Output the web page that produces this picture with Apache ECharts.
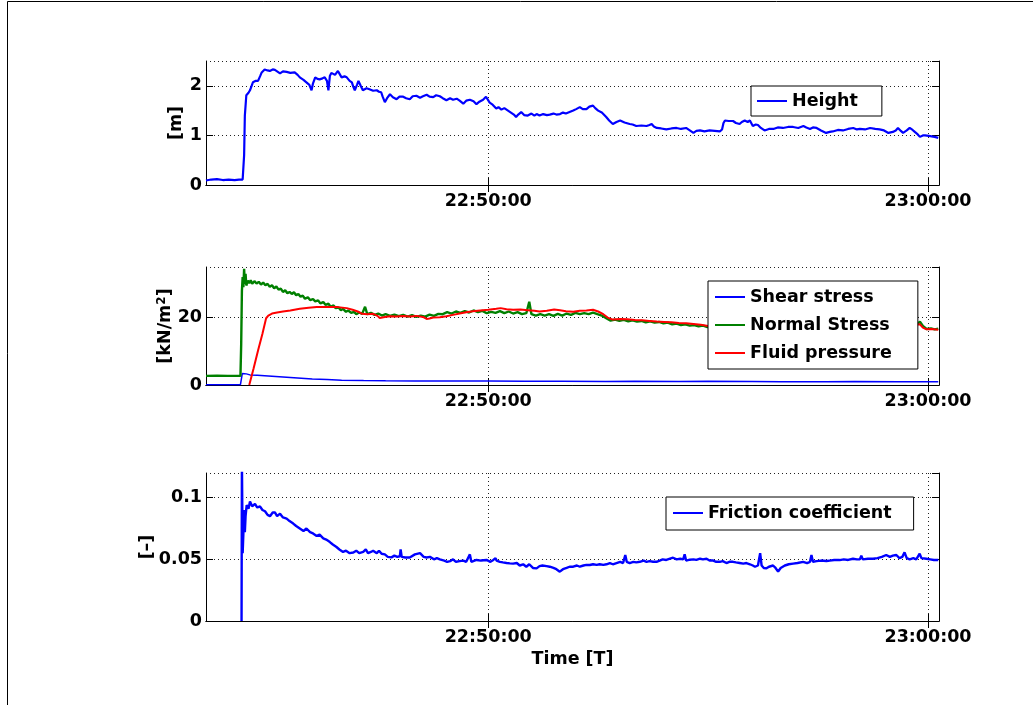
<!DOCTYPE html>
<html><head><meta charset="utf-8">
<script src="https://cdn.jsdelivr.net/npm/echarts@6/dist/echarts.min.js"></script>
<style>html,body{margin:0;padding:0;background:#fff}#c{width:1033px;height:705px}</style>
</head><body><div id="c"></div>
<script>
// time values: seconds after 22:40:00
const timeTicks = [600, 1200];
const xMin = 215, xMax = 1215;

const heightData = [[215,0.09],[222,0.11],[230,0.12],[238,0.10],[246,0.11],[254,0.10],[260,0.11],[265,0.11],[267,0.6],[268,1.4],[270,1.81],[273,1.86],[275,1.91],[279,2.07],[283,2.10],[286,2.10],[289,2.20],[291,2.27],[295,2.33],[299,2.31],[302,2.30],[306,2.33],[309,2.32],[313,2.28],[316,2.25],[320,2.29],[325,2.28],[330,2.26],[336,2.27],[340,2.22],[343,2.17],[348,2.12],[352,2.07],[356,2.02],[359,1.91],[361,2.05],[364,2.17],[367,2.14],[370,2.13],[374,2.15],[377,2.17],[380,2.10],[382,1.91],[384,2.20],[386,2.26],[388,2.28],[391,2.22],[393,2.24],[395,2.30],[398,2.22],[400,2.17],[404,2.19],[407,2.17],[411,2.10],[414,2.07],[416,1.98],[418,1.91],[421,2.02],[423,2.10],[426,2.00],[429,1.91],[434,1.95],[438,1.93],[443,1.90],[448,1.91],[451,1.88],[454,1.87],[456,1.78],[459,1.67],[462,1.75],[466,1.83],[470,1.77],[475,1.73],[479,1.78],[484,1.78],[488,1.75],[493,1.73],[497,1.79],[502,1.80],[507,1.76],[511,1.79],[516,1.82],[520,1.78],[525,1.77],[529,1.81],[534,1.79],[538,1.75],[543,1.71],[548,1.75],[552,1.72],[557,1.74],[561,1.70],[566,1.64],[570,1.70],[575,1.72],[580,1.69],[584,1.63],[588,1.68],[593,1.72],[597,1.78],[602,1.66],[606,1.62],[611,1.54],[614,1.57],[618,1.52],[622,1.55],[627,1.50],[631,1.46],[635,1.42],[638,1.37],[641,1.42],[645,1.47],[649,1.41],[654,1.40],[659,1.44],[663,1.40],[666,1.43],[670,1.40],[675,1.43],[680,1.41],[684,1.42],[689,1.44],[693,1.42],[698,1.43],[702,1.46],[706,1.44],[711,1.47],[716,1.50],[720,1.53],[725,1.57],[729,1.53],[734,1.53],[738,1.58],[743,1.60],[746,1.55],[750,1.50],[755,1.46],[761,1.37],[765,1.30],[770,1.23],[775,1.27],[780,1.30],[786,1.26],[793,1.23],[797,1.22],[802,1.19],[809,1.20],[816,1.19],[820,1.21],[823,1.23],[826,1.18],[830,1.15],[836,1.14],[843,1.12],[850,1.14],[857,1.15],[863,1.13],[870,1.15],[875,1.10],[880,1.05],[884,1.09],[889,1.10],[895,1.08],[902,1.10],[909,1.09],[916,1.08],[919,1.12],[921,1.25],[923,1.30],[928,1.29],[934,1.29],[938,1.25],[943,1.23],[946,1.27],[950,1.30],[954,1.27],[957,1.30],[961,1.19],[965,1.22],[968,1.21],[972,1.15],[977,1.10],[983,1.13],[989,1.13],[995,1.16],[1002,1.15],[1009,1.17],[1016,1.17],[1023,1.15],[1030,1.19],[1034,1.16],[1039,1.13],[1043,1.16],[1048,1.15],[1054,1.10],[1061,1.05],[1066,1.07],[1070,1.08],[1077,1.11],[1084,1.10],[1091,1.13],[1098,1.15],[1103,1.12],[1107,1.13],[1114,1.12],[1121,1.15],[1128,1.13],[1134,1.12],[1140,1.10],[1146,1.05],[1152,1.07],[1156,1.10],[1159,1.15],[1163,1.09],[1166,1.05],[1171,1.10],[1175,1.15],[1179,1.11],[1182,1.07],[1186,1.02],[1189,0.97],[1193,1.00],[1196,1.00],[1201,0.99],[1205,0.98],[1209,0.97],[1214,0.95]];

const shearData = [[215,0.1],[262,0.1],[263.5,0.2],[264.5,3.4],[266,3.1],[270,3.3],[275,3.0],[285,2.9],[300,2.7],[320,2.4],[340,2.1],[360,1.8],[380,1.6],[400,1.4],[430,1.3],[460,1.25],[500,1.2],[560,1.2],[600,1.15],[650,1.1],[700,1.1],[760,1.05],[800,1.1],[860,1.05],[900,1.1],[960,1.05],[1000,1.0],[1060,1.0],[1100,1.05],[1160,1.0],[1214,1.0]];

const normalData = [[215,2.7],[230,2.75],[245,2.7],[262,2.7],[263,12],[264,28],[265,32],[266,29],[267,34.5],[268,30],[269,33],[270,29.5],[272,31],[274,30.2],[276,31.1],[278,30.0],[281,30.8],[284,30.1],[287,30.6],[290,29.8],[293,30.4],[296,29.6],[299,30.0],[302,29.1],[305,29.6],[308,28.7],[311,29.2],[314,28.3],[317,28.6],[320,27.6],[323,28.1],[326,27.2],[329,27.6],[332,27.0],[335,27.5],[338,26.6],[341,27.0],[344,26.2],[347,26.5],[350,25.6],[354,26.0],[357,25.2],[361,25.5],[364,24.8],[368,25.1],[371,24.2],[375,24.6],[378,23.8],[382,24.1],[385,23.2],[389,23.6],[392,22.8],[396,23.0],[399,22.2],[402,22.6],[406,21.7],[409,22.1],[413,21.4],[417,21.7],[420,21.0],[424,21.5],[428,21.1],[432,23.2],[435,21.0],[440,21.4],[445,20.8],[450,21.2],[455,20.6],[460,21.0],[466,20.5],[472,20.9],[478,20.4],[484,20.8],[490,20.3],[496,20.7],[502,20.2],[508,20.6],[514,20.3],[520,20.9],[526,20.5],[532,21.1],[538,21.0],[544,21.6],[550,21.2],[556,21.8],[562,21.4],[568,21.9],[574,21.5],[580,22.1],[586,21.6],[592,22.0],[598,21.3],[604,21.7],[610,21.4],[616,21.9],[622,21.3],[628,21.8],[634,21.2],[640,21.6],[646,21.0],[652,21.3],[656,24.7],[659,21.0],[665,20.6],[671,21.0],[677,20.6],[683,21.0],[689,20.5],[695,21.1],[701,20.6],[707,21.2],[713,20.8],[719,21.4],[725,21.0],[731,21.3],[737,21.0],[743,21.5],[749,21.0],[755,20.6],[761,19.8],[767,19.1],[773,19.4],[779,19.0],[785,19.3],[791,18.9],[797,19.2],[803,18.8],[809,19.0],[815,18.6],[821,18.9],[827,18.5],[833,18.7],[839,18.3],[845,18.5],[851,18.0],[857,18.2],[863,17.8],[869,18.0],[875,17.6],[881,17.8],[887,17.4],[893,17.6],[899,17.2],[905,17.4],[911,17.0],[920,17.3],[940,17.0],[960,17.2],[980,16.9],[1000,17.1],[1030,16.8],[1060,17.0],[1090,16.8],[1120,17.1],[1150,17.2],[1175,17.4],[1185,18.0],[1189,18.8],[1193,17.5],[1198,16.6],[1204,16.8],[1209,16.5],[1214,16.7]];

const fluidData = [[274,0],[280,5],[286,10.2],[292,15.2],[297,19.8],[300,20.6],[305,21.2],[312,21.5],[320,21.8],[330,22.1],[343,22.6],[355,22.9],[366,23.1],[380,23.1],[395,23.1],[407,22.8],[415,22.3],[422,21.8],[428,21.1],[435,21.0],[443,21.1],[449,20.5],[452,19.9],[459,20.2],[466,20.4],[475,20.3],[484,20.5],[493,20.3],[502,20.5],[511,20.2],[516,19.6],[520,19.7],[525,20.0],[534,20.1],[543,20.4],[552,20.8],[561,21.2],[570,21.6],[579,21.9],[589,22.1],[600,22.3],[611,22.6],[617,22.8],[625,22.5],[634,22.3],[644,22.4],[654,22.2],[663,22.0],[670,21.8],[680,22.0],[690,22.4],[698,22.2],[706,21.9],[716,21.7],[725,22.0],[734,22.1],[743,22.3],[750,21.8],[757,21.0],[763,20.0],[770,19.4],[780,19.6],[790,19.5],[800,19.3],[810,19.2],[820,19.0],[830,18.8],[840,18.7],[850,18.6],[860,18.4],[870,18.3],[880,18.1],[890,17.9],[900,17.5],[906,17.3],[940,17.5],[980,17.3],[1020,17.2],[1060,17.4],[1100,17.3],[1140,17.5],[1180,17.8],[1189,18.0],[1193,17.0],[1198,16.5],[1205,16.6],[1214,16.4]];

const frictionData = [[263.5,0],[264,0.13],[265,0.055],[266,0.071],[267,0.09],[268,0.072],[269,0.085],[270.5,0.094],[273,0.091],[275,0.097],[278,0.093],[281.8,0.095],[285,0.092],[288.6,0.093],[292,0.090],[295.5,0.089],[299,0.086],[302.3,0.085],[306,0.088],[309,0.088],[312,0.085],[316,0.087],[320,0.084],[325,0.083],[329,0.081],[334,0.079],[338,0.077],[343,0.075],[348,0.073],[352,0.075],[357,0.072],[361,0.071],[366,0.069],[370,0.070],[375,0.067],[379,0.066],[384,0.064],[388,0.062],[393,0.060],[397,0.058],[402,0.056],[406,0.057],[411,0.055],[416,0.0555],[420,0.057],[424,0.055],[429.5,0.056],[433,0.058],[436,0.055],[440,0.056],[443,0.057],[448,0.055],[451,0.057],[454.6,0.0545],[459,0.054],[463,0.052],[468,0.0516],[472,0.053],[476,0.052],[479.5,0.0525],[480.5,0.058],[482,0.052],[487,0.0515],[493,0.0515],[500,0.054],[507,0.055],[512,0.052],[516,0.0515],[520.5,0.052],[526,0.050],[530,0.051],[534,0.050],[540,0.049],[544,0.048],[548,0.0485],[552,0.050],[556,0.048],[561,0.0485],[566,0.049],[570,0.048],[572.7,0.047],[575,0.054],[577,0.048],[584,0.0495],[590,0.049],[597.7,0.0495],[603,0.048],[607,0.0495],[610,0.051],[611.4,0.049],[616,0.048],[620,0.0475],[625,0.047],[629.5,0.0467],[634,0.0465],[639,0.047],[643,0.045],[647.7,0.046],[652,0.044],[656,0.046],[661,0.043],[666,0.0427],[670,0.0445],[674,0.045],[679.6,0.0445],[684,0.044],[689,0.043],[693,0.042],[697.7,0.040],[702,0.042],[707,0.043],[711,0.044],[716,0.044],[721,0.045],[725,0.044],[730,0.045],[734,0.0455],[738.6,0.0454],[743,0.046],[748,0.0455],[752,0.046],[757,0.0455],[761.4,0.046],[766,0.047],[770,0.046],[775,0.047],[780,0.048],[784,0.047],[787,0.0535],[789,0.048],[793,0.047],[798,0.048],[802,0.0475],[806.8,0.048],[812,0.049],[816,0.048],[820,0.0485],[825,0.048],[829.6,0.048],[834,0.049],[838,0.050],[843,0.0495],[848,0.0505],[852.2,0.0513],[857,0.050],[862,0.0505],[866,0.050],[868,0.054],[870,0.049],[875,0.0497],[880,0.050],[884,0.0495],[889,0.0505],[893,0.050],[897.8,0.0505],[902,0.049],[907,0.049],[911,0.048],[916,0.048],[920,0.0485],[925,0.047],[929,0.048],[934,0.048],[938,0.0475],[943,0.047],[948,0.0465],[952.3,0.047],[957,0.046],[961,0.045],[964,0.044],[968,0.045],[971,0.055],[973,0.045],[976,0.043],[979.6,0.0427],[983,0.044],[988.6,0.045],[992,0.043],[995.5,0.040],[999,0.043],[1004.7,0.045],[1010,0.046],[1016,0.0465],[1022,0.047],[1029.6,0.048],[1035,0.047],[1039,0.048],[1041,0.0535],[1043,0.048],[1048,0.0485],[1054,0.049],[1061.4,0.0486],[1066,0.049],[1072,0.0495],[1079.5,0.0494],[1085,0.050],[1091,0.0495],[1097.7,0.0505],[1103,0.050],[1107,0.050],[1109,0.053],[1111,0.050],[1118,0.0505],[1125,0.0505],[1131,0.051],[1137,0.052],[1143,0.0535],[1148,0.052],[1152,0.053],[1156.8,0.0535],[1161,0.051],[1165,0.052],[1168,0.0557],[1171,0.051],[1175,0.050],[1180,0.051],[1184,0.050],[1188.6,0.0546],[1191,0.051],[1197.7,0.0505],[1203,0.050],[1208,0.0495],[1214,0.0494]];

const FONT = 'DejaVu Sans';
const FS = 17.5;
function fmtTime(v) {
  const s = 22 * 3600 + 40 * 60 + Math.round(v);
  const p = n => String(n).padStart(2, '0');
  return p(Math.floor(s / 3600)) + ':' + p(Math.floor((s % 3600) / 60)) + ':' + p(s % 60);
}
const txt = {color: '#000', fontFamily: FONT, fontWeight: 'bold', fontSize: FS};
const grids = [
  {left: 206, top: 61, width: 733, height: 124},
  {left: 206, top: 267, width: 733, height: 118},
  {left: 206, top: 473, width: 733, height: 148}
];
const yCfg = [
  {min: 0, max: 2.5, interval: 1, name: '[m]', gap: 21},
  {min: 0, max: 35, interval: 20, name: '[kN/m{s|2}]', gap: 32},
  {min: 0, max: 0.12, interval: 0.05, name: '[–]', gap: 50}
];
const nameStyle = {...txt, rich: {s: {...txt, fontSize: 12, verticalAlign: 'top', lineHeight: 12}}};
const axisLine = {show: true, lineStyle: {color: '#000', width: 1}};
const dotted = {show: true, lineStyle: {color: '#222', width: 1, type: [1, 3]}};

const xAxis = [], yAxis = [];
grids.forEach((g, i) => {
  xAxis.push({
    type: 'value', gridIndex: i, min: xMin, max: xMax, position: 'bottom',
    axisLine,
    axisTick: {show: true, inside: true, length: 7, customValues: timeTicks, lineStyle: {color: '#000'}},
    axisLabel: {show: true, customValues: timeTicks, formatter: fmtTime, margin: 7, ...txt},
    splitLine: dotted,
    name: i === 2 ? 'Time [T]' : '', nameLocation: 'middle', nameGap: 29, nameTextStyle: txt,
    nameMoveOverlap: false
  });
  xAxis.push({
    type: 'value', gridIndex: i, min: xMin, max: xMax, position: 'top',
    axisLine,
    axisTick: {show: true, inside: true, length: 7, customValues: timeTicks, lineStyle: {color: '#000'}},
    axisLabel: {show: false}, splitLine: {show: false}
  });
  const c = yCfg[i];
  yAxis.push({
    type: 'value', gridIndex: i, min: c.min, max: c.max, interval: c.interval, position: 'left',
    axisLine,
    axisTick: {show: true, inside: true, length: 7, lineStyle: {color: '#000'}},
    axisLabel: {show: true, margin: 4, showMaxLabel: false, ...txt},
    splitLine: dotted,
    name: c.name, nameLocation: 'middle', nameGap: c.gap, nameTextStyle: nameStyle,
    nameMoveOverlap: false
  });
  yAxis.push({
    type: 'value', gridIndex: i, min: c.min, max: c.max, interval: c.interval, position: 'right',
    axisLine,
    axisTick: {show: true, inside: true, length: 7, lineStyle: {color: '#000'}},
    axisLabel: {show: false}, splitLine: {show: false}
  });
});

function line(name, data, gi, color, w) {
  return {
    type: 'line', name, data, xAxisIndex: gi * 2, yAxisIndex: gi * 2,
    symbol: 'none', showSymbol: false, clip: true,
    lineStyle: {color, width: w}, itemStyle: {color}
  };
}
const legendText = {...txt, lineHeight: 20};
const legendBase = {
  backgroundColor: '#fff', borderColor: '#000', borderWidth: 1, borderRadius: 0,
  icon: 'rect', itemWidth: 30, itemHeight: 2, textStyle: legendText, selectedMode: false
};

const option = {
  animation: false,
  backgroundColor: '#fff',
  grid: grids,
  xAxis, yAxis,
  legend: [
    {...legendBase, data: ['Height'], left: 751, top: 86, padding: [5, 24, 5, 6]},
    {...legendBase, data: ['Shear stress', 'Normal Stress', 'Fluid pressure'], orient: 'vertical',
      itemGap: 8, left: 708, top: 281, padding: [6, 26, 6, 7]},
    {...legendBase, data: ['Friction coefficient'], left: 666, top: 497, padding: [6, 22, 7, 7]}
  ],
  series: [
    line('Height', heightData, 0, '#0000ff', 2.2),
    line('Shear stress', shearData, 1, '#0000ff', 1.5),
    line('Normal Stress', normalData, 1, '#008000', 2.4),
    line('Fluid pressure', fluidData, 1, '#ff0000', 2),
    line('Friction coefficient', frictionData, 2, '#0000ff', 2.4)
  ],
  graphic: [
    {type: 'line', shape: {x1: 7.5, y1: 1.5, x2: 7.5, y2: 705}, style: {stroke: '#000', lineWidth: 1}},
    {type: 'line', shape: {x1: 7.5, y1: 1.5, x2: 1033, y2: 1.5}, style: {stroke: '#000', lineWidth: 1}}
  ]
};
echarts.init(document.getElementById('c')).setOption(option);
</script>
</body></html>
